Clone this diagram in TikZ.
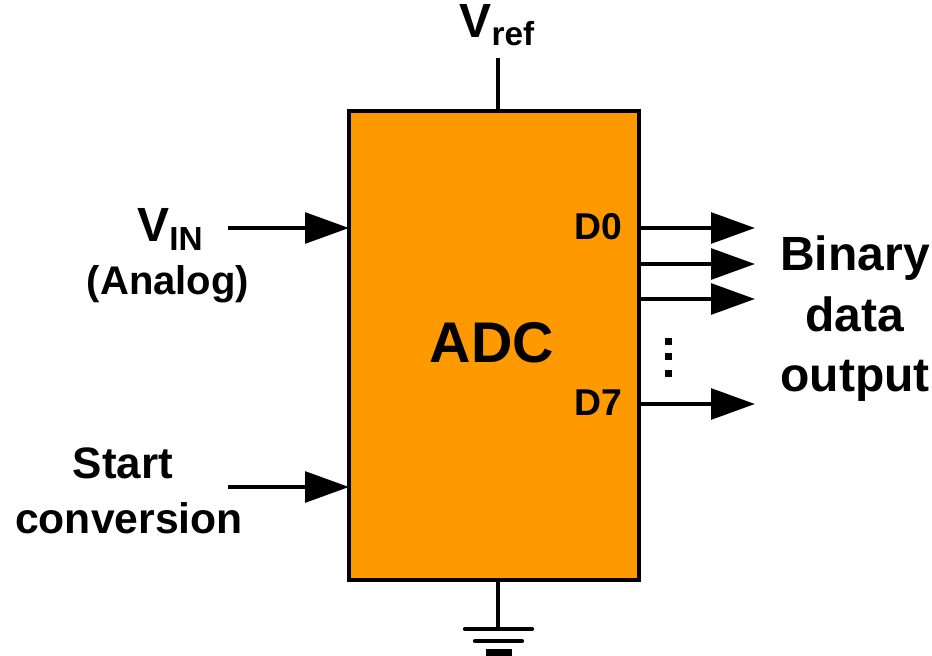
\documentclass[tikz,border=0pt]{standalone}
\usepackage{fontspec}
\setmainfont{Liberation Sans}
\usetikzlibrary{arrows.meta}
\definecolor{adcfill}{RGB}{255,153,0}
\tikzset{
 wire/.style={line width=2.9pt,black},
 arrowwire/.style={wire,-{Triangle[length=33pt,width=23pt,sep=0pt]}},
 lab/.style={font=\bfseries\fontsize{36}{40}\selectfont,inner sep=0pt,align=center,anchor=base},
 pin/.style={font=\bfseries\fontsize{28}{30}\selectfont,inner sep=0pt,anchor=base},
}
\begin{document}
\begin{tikzpicture}[x=0.75pt,y=-0.75pt]
\useasboundingbox (0,0) rectangle (932,656);
\node[draw=black,fill=adcfill,line width=3.2pt,outer sep=0pt,minimum width=217.5pt,minimum height=351.75pt,inner sep=0pt] (adc) at (494,345.5) {};
\node[lab,font=\bfseries\fontsize{43}{46}\selectfont] (adclabel) at (492,362) {ADC};
\node[lab] (vref) at (497,38) {V\raisebox{-6pt}{\fontsize{25}{28}\selectfont ref}};
\coordinate (vreftop) at (498,58);
\draw[wire] (vreftop) -- (vreftop |- adc.north);
\node[lab] (vin) at (170,242) {V\raisebox{-6pt}{\fontsize{25}{28}\selectfont IN}};
\node[lab,font=\bfseries\fontsize{30}{34}\selectfont] (analog) at (168,294) {(Analog)};
\coordinate (a1s) at (228,228);
\draw[arrowwire] (a1s) -- (a1s -| adc.west);
\node[lab,font=\bfseries\fontsize{33}{36}\selectfont] (start) at (123,478) {Start};
\node[lab,font=\bfseries\fontsize{32}{36}\selectfont] (conv) at (129,533) {conversion};
\coordinate (a2s) at (228,487);
\draw[arrowwire] (a2s) -- (a2s -| adc.west);
\node[pin] (d0) at (598,239) {D0};
\node[pin] (d7) at (598,415) {D7};
\foreach \n/\y in {o0/228,o1/264,o2/299,o7/404}{
 \coordinate (\n e) at (755,\y);
 \draw[arrowwire] (\n e -| adc.east) -- (\n e);
}
\node[lab] (binary) at (855,270) {Binary};
\node[lab] (data) at (855,331) {data};
\node[lab] (output) at (855,391) {output};
\foreach \y in {341,356.5,373}{\fill (665,\y-3.5) rectangle (672,\y+3.5);}
\coordinate (gbot) at (498,629);
\draw[wire] (gbot |- adc.south) -- (gbot);
\draw[line width=3.2pt,line cap=round] (465,629) -- (532,629);
\draw[line width=3.2pt,line cap=round] (475,641) -- (522,641);
\fill (486,649) rectangle (512,656);
\end{tikzpicture}
\end{document}
